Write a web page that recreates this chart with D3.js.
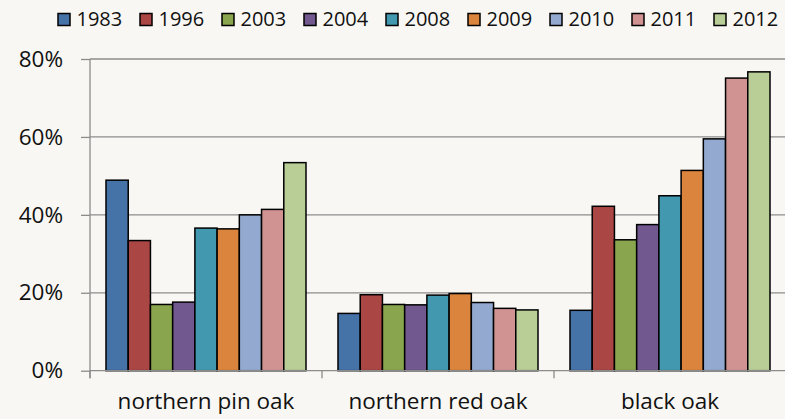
<!DOCTYPE html>
<html><head><meta charset="utf-8">
<script src="https://cdn.jsdelivr.net/npm/d3@7"></script>
<style>html,body{margin:0;padding:0;background:#f8f7f3;}svg{display:block;}</style>
</head><body><div id="chart"></div>
<script>
const categories = ["northern pin oak", "northern red oak", "black oak"];
const years = ["1983","1996","2003","2004","2008","2009","2010","2011","2012"];
const v1983 = [0.489, 0.147, 0.155];
const v1996 = [0.334, 0.195, 0.422];
const v2003 = [0.170, 0.170, 0.336];
const v2004 = [0.176, 0.169, 0.375];
const v2008 = [0.366, 0.194, 0.449];
const v2009 = [0.364, 0.198, 0.514];
const v2010 = [0.400, 0.175, 0.595];
const v2011 = [0.414, 0.160, 0.751];
const v2012 = [0.534, 0.156, 0.767];
const seriesValues = [v1983, v1996, v2003, v2004, v2008, v2009, v2010, v2011, v2012];
const colors = ["#4572a7","#aa4643","#89a54e","#71588f","#4198af","#db843d","#93a9cf","#d19392","#b9cd96"];
const yTicks = [0, 0.2, 0.4, 0.6, 0.8];

(function () {
const W = 785, H = 419;
const svg = d3.select("#chart").append("svg").attr("width", W).attr("height", H);
svg.append("rect").attr("width", W).attr("height", H).attr("fill", "#f8f7f3");

const pLeft = 90, pRight = 786, pTop = 59, pBottom = 370.7;
const y = d3.scaleLinear().domain([0, 0.8]).range([pBottom, pTop]);
const x0 = d3.scaleBand().domain(categories).range([pLeft, pRight]).padding(0);
const x1 = d3.scaleBand().domain(years).range([16, x0.bandwidth() - 16]).padding(0);
const font = "'Open Sans', sans-serif";
const gridColor = "#8c8c8c";

// gridlines
svg.append("g").selectAll("line").data(yTicks.filter(d => d > 0)).join("line")
  .attr("x1", pLeft).attr("x2", W).attr("y1", d => y(d)).attr("y2", d => y(d))
  .attr("stroke", gridColor).attr("stroke-width", 1.3);

// y axis
const yAxis = d3.axisLeft(y).tickValues(yTicks).tickFormat(d3.format(".0%")).tickSize(9).tickPadding(18);
const gy = svg.append("g").attr("transform", `translate(${pLeft},0)`).call(yAxis);
gy.select(".domain").attr("stroke", gridColor).attr("stroke-width", 1.3).attr("d", `M0,${pTop}V${pBottom + 7.5}`);
gy.selectAll(".tick line").attr("stroke", gridColor).attr("stroke-width", 1.3);
gy.selectAll(".tick text").attr("font-family", font).attr("font-size", 22.5).attr("fill", "#111");

// bars
const groups = svg.append("g").selectAll("g").data(categories).join("g")
  .attr("transform", d => `translate(${x0(d)},0)`);
groups.selectAll("rect").data((c, ci) => years.map((yr, si) => ({yr, v: seriesValues[si][ci], color: colors[si]})))
  .join("rect")
  .attr("x", d => x1(d.yr)).attr("width", x1.bandwidth())
  .attr("y", d => y(d.v)).attr("height", d => pBottom - y(d.v))
  .attr("fill", d => d.color).attr("stroke", "#000").attr("stroke-width", 1.5);

// x axis
const xAxis = d3.axisBottom(x0).tickSize(0).tickPadding(22);
const gx = svg.append("g").attr("transform", `translate(0,${pBottom})`).call(xAxis);
gx.select(".domain").attr("stroke", gridColor).attr("stroke-width", 1.3).attr("d", `M${pLeft},0H${W}`);
gx.selectAll(".tick text").attr("font-family", font).attr("font-size", 22.5).attr("fill", "#111");
// category separator ticks
svg.append("g").selectAll("line").data(categories).join("line")
  .attr("x1", d => x0(d)).attr("x2", d => x0(d)).attr("y1", pBottom).attr("y2", pBottom + 7.5)
  .attr("stroke", gridColor).attr("stroke-width", 1.3);

// legend
const lg = svg.append("g");
const items = lg.selectAll("g").data(years).join("g")
  .attr("transform", (d, i) => `translate(${57.5 + i * 82},0)`);
items.append("rect").attr("x", 0.5).attr("y", 13.5).attr("width", 12).attr("height", 12)
  .attr("fill", (d, i) => colors[i]).attr("stroke", "#000").attr("stroke-width", 1.5);
items.append("text").attr("x", 19).attr("y", 26).text(d => d)
  .attr("font-family", font).attr("font-size", 20).attr("fill", "#111");
})();
</script></body></html>
